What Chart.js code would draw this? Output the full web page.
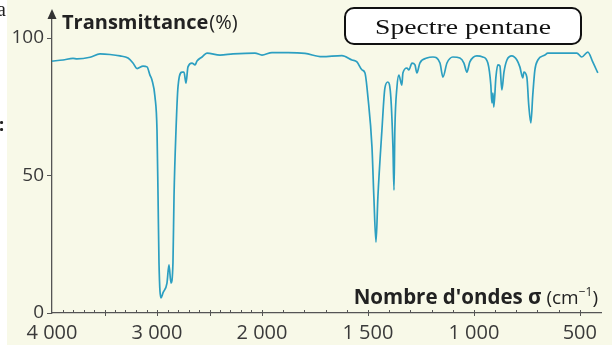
<!DOCTYPE html>
<html>
<head>
<meta charset="utf-8">
<script src="https://cdn.jsdelivr.net/npm/chart.js@4/dist/chart.umd.min.js"></script>
<style>
  html, body { margin: 0; padding: 0; background: #ffffff; }
  #wrap { width: 612px; height: 345px; }
</style>
</head>
<body>
<div id="wrap"><canvas id="c" width="612" height="345"></canvas></div>
<script>
// ---- Data ----
const wavenumbers = [4000, 3895, 3800, 3762, 3638, 3543, 3448, 3352, 3276, 3229,
  3190, 3133, 3095, 3067, 3048, 3019, 3000, 2990, 2981, 2962,
  2943, 2905, 2886, 2867, 2848, 2838, 2819, 2800, 2762, 2743,
  2724, 2705, 2667, 2638, 2619, 2571, 2524, 2400, 2276, 2067,
  2000, 1953, 1877, 1797, 1717, 1623, 1575, 1552, 1528, 1514,
  1500, 1481, 1472, 1462, 1453, 1434, 1420, 1406, 1392, 1382,
  1377, 1373, 1363, 1354, 1340, 1335, 1316, 1307, 1292, 1278,
  1269, 1255, 1222, 1193, 1160, 1146, 1127, 1099, 1066, 1047,
  1033, 1019, 986, 958, 934, 920, 915, 910, 906, 896,
  887, 877, 868, 858, 844, 821, 797, 783, 769, 764,
  750, 741, 731, 722, 712, 698, 665, 651, 580, 514,
  491, 462, 439, 415];
const transmittance = [91.6, 92.0, 92.6, 92.4, 93.0, 94.2, 94.0, 93.5, 92.7, 90.9,
  88.9, 89.8, 89.5, 86.5, 84.7, 78.5, 66.5, 42.2, 18.2, 5.5,
  7.3, 10.9, 17.5, 10.9, 18.2, 42.2, 66.5, 82.2, 87.6, 87.6,
  83.6, 89.5, 90.9, 90.2, 91.6, 93.1, 94.5, 93.8, 94.2, 94.5,
  93.8, 94.7, 94.7, 94.4, 93.2, 93.6, 92.0, 91.3, 88.4, 87.3,
  78.5, 60.4, 42.2, 25.8, 42.2, 66.5, 81.8, 84.0, 78.5, 60.4,
  44.7, 66.5, 82.2, 86.5, 82.9, 87.3, 89.1, 88.4, 90.9, 90.2,
  87.3, 90.9, 92.7, 93.1, 90.9, 85.8, 90.9, 93.1, 92.7, 90.9,
  87.6, 91.3, 93.5, 93.1, 90.9, 82.9, 76.4, 80.0, 74.9, 85.8,
  90.2, 89.8, 81.1, 87.6, 92.0, 93.5, 92.0, 89.5, 85.5, 87.6,
  85.8, 75.6, 69.1, 79.3, 88.4, 92.0, 93.8, 94.5, 94.5, 94.5,
  93.1, 94.9, 91.3, 87.3];
const xTickValues = [4000, 3000, 2000, 1500, 1000, 500];
const xTickLabels = ['4 000', '3 000', '2 000', '1 500', '1 000', '500'];
const yTickValues = [0, 50, 100];
const yTickLabels = ['0', '50', '100'];
const chartTitle = 'Spectre pentane';
const yAxisTitle = 'Transmittance';
const yAxisUnit = '(%)';
const xAxisTitle = "Nombre d'ondes σ";
const xAxisUnit = '(cm';
const xAxisExp = '−1';

// ---- Wavenumber axis with the usual IR scale change at 2000 cm-1 ----
const BREAK_AT = 2000;
const BREAK_FRAC = 210 / 549;
class IRScale extends Chart.LinearScale {
  getPixelForValue(value) {
    if (value === null || value === undefined || isNaN(value)) return NaN;
    const lo = this.min, hi = this.max;
    const d = value >= BREAK_AT
      ? (hi - value) / (hi - BREAK_AT) * BREAK_FRAC
      : BREAK_FRAC + (BREAK_AT - value) / (BREAK_AT - lo) * (1 - BREAK_FRAC);
    return this.getPixelForDecimal(d);
  }
  getValueForPixel(pixel) {
    const d = this.getDecimalForPixel(pixel);
    const lo = this.min, hi = this.max;
    return d <= BREAK_FRAC
      ? hi - d / BREAK_FRAC * (hi - BREAK_AT)
      : BREAK_AT - (d - BREAK_FRAC) / (1 - BREAK_FRAC) * (BREAK_AT - lo);
  }
}
IRScale.id = 'irscale';
IRScale.defaults = Chart.LinearScale.defaults;
Chart.register(IRScale);

const CREAM = '#f8f9e8';
const AXIS = '#555555';
const FONT = '"Open Sans", "DejaVu Sans", sans-serif';

const decor = {
  id: 'decor',
  beforeDraw(chart) {
    const ctx = chart.ctx;
    ctx.save();
    ctx.fillStyle = '#ffffff';
    ctx.fillRect(0, 0, chart.width, chart.height);
    ctx.fillStyle = CREAM;
    ctx.fillRect(7, 0, chart.width - 7, chart.height);
    ctx.restore();
  },
  afterDraw(chart) {
    const ctx = chart.ctx;
    const xs = chart.scales.x;
    const ca = chart.chartArea;
    ctx.save();
    // x-axis tick marks (every 100 cm-1, upward; every 500 crosses the axis)
    ctx.strokeStyle = AXIS;
    ctx.lineWidth = 1;
    for (let v = 3900; v >= 500; v -= 100) {
      const px = Math.round(xs.getPixelForValue(v)) + 0.5;
      const major = v % 500 === 0;
      ctx.beginPath();
      ctx.moveTo(px, ca.bottom - 3);
      ctx.lineTo(px, ca.bottom + (major ? 3 : 0));
      ctx.stroke();
    }
    // y axis arrow head
    const ax = xs.getPixelForValue(4000);
    ctx.fillStyle = '#333333';
    ctx.beginPath();
    ctx.moveTo(ax, 9);
    ctx.lineTo(ax - 4.5, 19);
    ctx.lineTo(ax + 4.5, 19);
    ctx.closePath();
    ctx.fill();
    // y axis title
    ctx.fillStyle = '#222222';
    ctx.textBaseline = 'alphabetic';
    ctx.textAlign = 'left';
    ctx.font = 'bold 20px ' + FONT;
    ctx.fillText(yAxisTitle, 62, 29);
    const w1 = ctx.measureText(yAxisTitle).width;
    ctx.font = '20px ' + FONT;
    ctx.fillText(yAxisUnit, 62 + w1 + 1, 29);
    // x axis title (right aligned above the axis end)
    const parts = [
      { t: xAxisTitle, f: 'bold 20.5px ' + FONT, dy: 0 },
      { t: ' ' + xAxisUnit, f: '19px ' + FONT, dy: 0 },
      { t: xAxisExp, f: '12px ' + FONT, dy: -8 },
      { t: ')', f: '19px ' + FONT, dy: 0 }
    ];
    let total = 0;
    parts.forEach(p => { ctx.font = p.f; p.w = ctx.measureText(p.t).width; total += p.w; });
    let x0 = 598 - total;
    parts.forEach(p => { ctx.font = p.f; ctx.fillText(p.t, x0, 304 + p.dy); x0 += p.w; });
    // title box
    ctx.beginPath();
    ctx.roundRect(345, 8, 236, 36, 9);
    ctx.fillStyle = '#ffffff';
    ctx.fill();
    ctx.lineWidth = 2;
    ctx.strokeStyle = '#111111';
    ctx.stroke();
    ctx.fillStyle = '#111111';
    ctx.font = '21px "Liberation Serif", "Times New Roman", serif';
    ctx.textAlign = 'left';
    const tw = ctx.measureText(chartTitle).width;
    const target = 176;
    ctx.save();
    ctx.translate(375, 34);
    ctx.scale(target / tw, 1);
    ctx.fillText(chartTitle, 0, 0);
    ctx.restore();
    // cut-off fragments at the left border of the picture
    ctx.fillStyle = '#222222';
    ctx.font = '20px "Liberation Serif", serif';
    ctx.fillText('a', -3, 16);
    ctx.font = 'bold 18px ' + FONT;
    ctx.fillText(':', -1, 131);
    ctx.restore();
  }
};

new Chart(document.getElementById('c'), {
  type: 'line',
  data: {
    datasets: [{
      data: wavenumbers.map((w, i) => ({ x: w, y: transmittance[i] })),
      borderColor: '#2c9fc1',
      borderWidth: 1.7,
      pointRadius: 0,
      fill: false,
      cubicInterpolationMode: 'monotone'
    }]
  },
  options: {
    responsive: false,
    animation: false,
    devicePixelRatio: 1,
    layout: { padding: { left: 0, right: 11, top: 16, bottom: 0 } },
    plugins: { legend: { display: false }, tooltip: { enabled: false }, title: { display: false } },
    scales: {
      x: {
        type: 'irscale',
        min: 400,
        max: 4000,
        afterBuildTicks: s => { s.ticks = xTickValues.map(v => ({ value: v })); },
        afterFit: s => { s.height = 32; },
        ticks: {
          autoSkip: false,
          maxRotation: 0,
          padding: 8,
          color: '#3a3a3a',
          font: { family: FONT, size: 20 },
          callback: (v, i) => xTickLabels[i]
        },
        grid: { display: false, drawTicks: false },
        border: { display: true, color: AXIS, width: 1.3 }
      },
      y: {
        type: 'linear',
        min: 0,
        max: 108,
        afterBuildTicks: s => { s.ticks = yTickValues.map(v => ({ value: v })); },
        afterFit: s => { s.width = 52; },
        ticks: {
          padding: 3,
          color: '#3a3a3a',
          font: { family: FONT, size: 19 },
          callback: (v, i) => yTickLabels[i]
        },
        grid: { display: true, drawOnChartArea: false, drawTicks: true, tickLength: 5, color: AXIS },
        border: { display: true, color: AXIS, width: 1.3 }
      }
    }
  },
  plugins: [decor]
});
</script>
</body>
</html>
